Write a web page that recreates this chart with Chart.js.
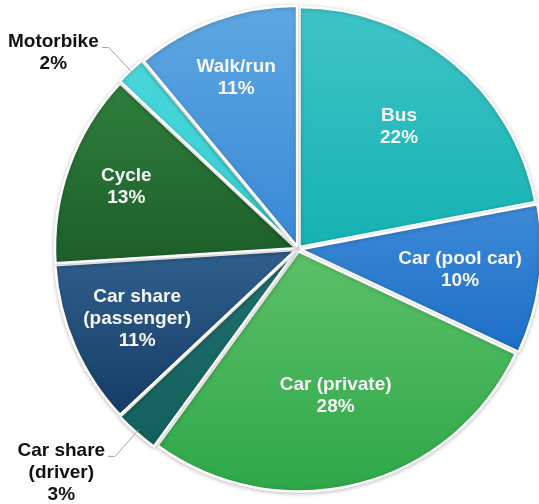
<!DOCTYPE html>
<html>
<head>
<meta charset="utf-8">
<script src="https://cdn.jsdelivr.net/npm/chart.js@4/dist/chart.umd.min.js"></script>
<style>
  html, body { margin: 0; padding: 0; background: #ffffff; }
  #wrap { width: 539px; height: 504px; }
</style>
</head>
<body>
<div id="wrap"><canvas id="chart" width="539" height="504"></canvas></div>
<script>
// Commute mode split, clockwise from 12 o'clock
const categories = ['Bus', 'Car (pool car)', 'Car (private)', 'Car share (driver)',
                    'Car share (passenger)', 'Cycle', 'Motorbike', 'Walk/run'];
const shares = [22, 10, 28, 3, 11, 13, 2, 11];
const labelLines = [['Bus'], ['Car (pool car)'], ['Car (private)'], ['Car share', '(driver)'],
                    ['Car share', '(passenger)'], ['Cycle'], ['Motorbike'], ['Walk/run']];

// Slice shading: top and bottom of each slice's vertical gradient
const topColors    = ['#40c4c6', '#3d8ad7', '#5cc068', '#1f726f', '#305f8d', '#2f7f3d', '#48d7da', '#5ea7e1'];
const bottomColors = ['#16b2b3', '#1d6ec7', '#2ea748', '#145f5c', '#163c65', '#1d5e2a', '#38cdd0', '#3a89d7'];

// Where the label sits: fraction of the radius for inside labels, or 'outside' with a leader line
const labelPlacement = [0.65, 0.67, 0.62, 'outside', 0.72, 0.75, 'outside', 0.75];

const FONT = 'bold 19px "Liberation Sans", Arial, sans-serif';
const LINE_H = 22;
const LEADER_LEN = 36;

function arcOffset(arc) {
  const off = (arc.options.offset || 0) / 4;
  const half = (arc.startAngle + arc.endAngle) / 2;
  return { dx: Math.cos(half) * off, dy: Math.sin(half) * off, half };
}

// Vertical gradient per slice, spanning the slice's own bounding box
const sliceGradients = {
  id: 'sliceGradients',
  beforeDatasetDraw(chart, args) {
    const ctx = chart.ctx;
    const meta = args.meta;
    meta.data.forEach((arc, i) => {
      const { dx, dy } = arcOffset(arc);
      const cx = arc.x + dx, cy = arc.y + dy, r = arc.outerRadius;
      const ys = [cy, cy + Math.sin(arc.startAngle) * r, cy + Math.sin(arc.endAngle) * r];
      for (let k = -2; k <= 6; k++) {
        const a = k * Math.PI / 2;
        if (a >= arc.startAngle && a <= arc.endAngle) ys.push(cy + Math.sin(a) * r);
      }
      const minY = Math.min(...ys), maxY = Math.max(...ys);
      const g = ctx.createLinearGradient(0, minY, 0, maxY + 0.01);
      g.addColorStop(0, topColors[i]);
      g.addColorStop(1, bottomColors[i]);
      arc.options = Object.assign({}, arc.options, { backgroundColor: g });
    });
    ctx.save();
    ctx.shadowColor = 'rgba(0,0,0,0.22)';
    ctx.shadowBlur = 4;
    ctx.shadowOffsetY = 1;
  },
  afterDatasetDraw(chart) {
    chart.ctx.restore();
  }
};

// Category + percentage labels, inside the slice or outside with a leader line
const sliceLabels = {
  id: 'sliceLabels',
  afterDatasetsDraw(chart) {
    const ctx = chart.ctx;
    const meta = chart.getDatasetMeta(0);
    const total = shares.reduce((a, b) => a + b, 0);
    ctx.save();
    ctx.font = FONT;
    ctx.textBaseline = 'middle';
    ctx.textAlign = 'center';
    meta.data.forEach((arc, i) => {
      const { dx, dy, half } = arcOffset(arc);
      const cx = arc.x + dx, cy = arc.y + dy, r = arc.outerRadius;
      const lines = labelLines[i].concat([Math.round(shares[i] / total * 100) + '%']);
      const place = labelPlacement[i];
      if (place === 'outside') {
        const ex = cx + Math.cos(half) * (r - 2), ey = cy + Math.sin(half) * (r - 2);
        const bx = ex + Math.cos(half) * LEADER_LEN, by = ey + Math.sin(half) * LEADER_LEN;
        const hx = bx - 7;
        ctx.strokeStyle = '#a6a6a6';
        ctx.lineWidth = 1;
        ctx.beginPath();
        ctx.moveTo(ex, ey);
        ctx.lineTo(bx, by);
        ctx.lineTo(hx, by);
        ctx.stroke();
        const w = Math.max(...lines.map(t => ctx.measureText(t).width));
        const tx = hx - 3 - w / 2;
        const ty0 = by - 6;
        ctx.fillStyle = '#111111';
        lines.forEach((t, j) => ctx.fillText(t, tx, ty0 + j * LINE_H));
      } else {
        const px = cx + Math.cos(half) * r * place;
        const py = cy + Math.sin(half) * r * place;
        const y0 = py - (lines.length - 1) * LINE_H / 2;
        ctx.fillStyle = '#f7f7f7';
        lines.forEach((t, j) => ctx.fillText(t, px, y0 + j * LINE_H));
      }
    });
    ctx.restore();
  }
};

new Chart(document.getElementById('chart'), {
  type: 'pie',
  data: {
    labels: categories,
    datasets: [{
      data: shares,
      backgroundColor: topColors,
      borderColor: '#ffffff',
      borderWidth: 2.5,
      borderJoinStyle: 'bevel',
      offset: 10,
      radius: 240
    }]
  },
  options: {
    responsive: false,
    animation: false,
    layout: { padding: { left: 57, right: 0, top: 0, bottom: 6 } },
    plugins: {
      legend: { display: false },
      tooltip: { enabled: false }
    },
    events: []
  },
  plugins: [sliceGradients, sliceLabels]
});
</script>
</body>
</html>
